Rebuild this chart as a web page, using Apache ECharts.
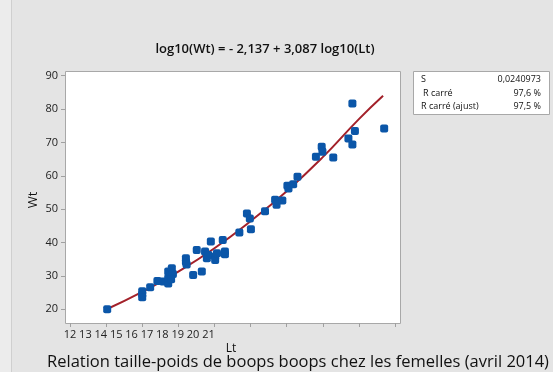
<!DOCTYPE html>
<html>
<head>
<meta charset="utf-8">
<script src="https://cdn.jsdelivr.net/npm/echarts@6/dist/echarts.min.js"></script>
<style>html,body{margin:0;padding:0;background:#e4e4e4;}#c{width:553px;height:372px;}</style>
</head>
<body>
<div id="c"></div>
<script>
// Lt (x) and Wt (y) values
const lt = [13.03,14.0,14.0,14.0,14.22,14.42,14.58,14.72,14.72,14.72,14.82,14.85,14.80,15.21,15.21,15.23,15.41,15.51,15.65,15.74,15.79,15.90,15.83,16.02,16.02,16.07,16.23,16.29,16.29,16.69,16.90,16.98,17.01,17.40,17.68,17.72,17.88,18.02,18.05,18.18,18.30,18.81,18.97,18.99,19.29,19.71,19.82,19.82,19.89,20.70];
const wt = [20.0,25.4,24.5,23.6,26.6,28.5,28.3,27.7,29.4,31.3,32.3,30.6,29.0,35.3,34.2,33.4,30.3,37.8,31.3,37.3,35.3,40.3,36.3,35.8,34.8,36.8,40.8,37.3,36.5,43.0,48.7,47.2,44.0,49.4,52.8,51.3,52.6,57.0,56.2,57.5,59.7,65.7,68.7,67.2,65.5,71.2,69.4,81.7,73.4,74.2];
// fitted curve
const fitLt = [13.03,14,15,16,17,18,19,20,20.67];
const fitWt = [20.1,25.2,31.3,38.3,46.4,55.4,65.6,77.0,84.0];
const xTickLabels = [12,13,14,15,16,17,18,19,20,21];
const yTicks = [20,30,40,50,60,70,80,90];
const statNames = ['S','R carré','R carré (ajust)'];
const statValues = ['0,0240973','97,6 %','97,5 %'];

const chart = echarts.init(document.getElementById('c'), null, {renderer:'canvas'});
const font = "'Open Sans', 'Noto Sans', sans-serif";
const pts = lt.map((v,i)=>[v,wt[i]]);
const fit = fitLt.map((v,i)=>[v,fitWt[i]]);
const gfx = [
  {type:'rect', z:-10, shape:{x:0,y:0,width:11,height:372}, style:{fill:'#ececec'}},
  {type:'line', z:-10, shape:{x1:11.5,y1:0,x2:11.5,y2:372}, style:{stroke:'#cfcfcf',lineWidth:1}},
  {type:'rect', z:-5, shape:{x:65.5,y:71.5,width:335,height:252}, style:{fill:'#fff',stroke:'#a8a8a8',lineWidth:1}},
  {type:'text', x:265, y:49, style:{text:'log10(Wt) = - 2,137 + 3,087 log10(Lt)', font:"600 13px "+font, fill:'#111', textAlign:'center', textVerticalAlign:'middle'}},
  {type:'text', x:33, y:200, rotation:Math.PI/2, style:{text:'Wt', font:"13px "+font, fill:'#111', textAlign:'center', textVerticalAlign:'middle'}},
  {type:'text', x:231, y:349, style:{text:'Lt', font:"12px "+font, fill:'#111', textAlign:'center', textVerticalAlign:'middle'}},
  {type:'text', x:298, y:362, style:{text:'Relation taille-poids de boops boops chez les femelles (avril 2014)', font:"16.5px "+font, fill:'#111', textAlign:'center', textVerticalAlign:'middle'}},
  {type:'rect', z:-5, shape:{x:413.5,y:71.5,width:136,height:43}, style:{fill:'#fff',stroke:'#a8a8a8',lineWidth:1}}
];
const rowY = [79.5,93,106.5];
const nameX = [421,423,421];
statNames.forEach((n,i)=>{
  gfx.push({type:'text', x:nameX[i], y:rowY[i], style:{text:n, font:"9px "+font, fill:'#111', textVerticalAlign:'middle'}});
  gfx.push({type:'text', x:541, y:rowY[i], style:{text:statValues[i], font:"9px "+font, fill:'#111', textAlign:'right', textVerticalAlign:'middle'}});
});

chart.setOption({
  animation:false,
  backgroundColor:'#e4e4e4',
  grid:{left:70, top:75.7, width:325, height:233.6, containLabel:false},
  xAxis:[
    {type:'value', min:12, max:21, interval:1, position:'bottom', offset:13.7,
     axisLine:{show:false}, axisTick:{show:true, length:4, lineStyle:{color:'#a0a0a0'}},
     axisLabel:{show:false}, splitLine:{show:false}},
    {type:'value', min:12, max:33.12, interval:1, position:'bottom', offset:13.7,
     axisLine:{show:false}, axisTick:{show:false}, splitLine:{show:false},
     axisLabel:{show:true, margin:6, fontSize:11, fontFamily:font, color:'#222',
       formatter:(v)=> xTickLabels.indexOf(v) >= 0 ? String(v) : ''}}
  ],
  yAxis:{type:'value', min:yTicks[0], max:yTicks[yTicks.length-1], interval:10, offset:5,
    axisLine:{show:false}, axisTick:{show:true, length:4, lineStyle:{color:'#a0a0a0'}},
    axisLabel:{margin:7, fontSize:11, fontFamily:font, color:'#222'}, splitLine:{show:false}},
  series:[
    {type:'line', data:fit, smooth:true, symbol:'none', z:3, xAxisIndex:0,
     lineStyle:{color:'#a3212a', width:2}},
    {type:'scatter', data:pts, symbol:'roundRect', symbolSize:8, z:4, xAxisIndex:0,
     itemStyle:{color:'#0b56a8', opacity:1}}
  ],
  graphic:gfx
});
</script>
</body>
</html>
